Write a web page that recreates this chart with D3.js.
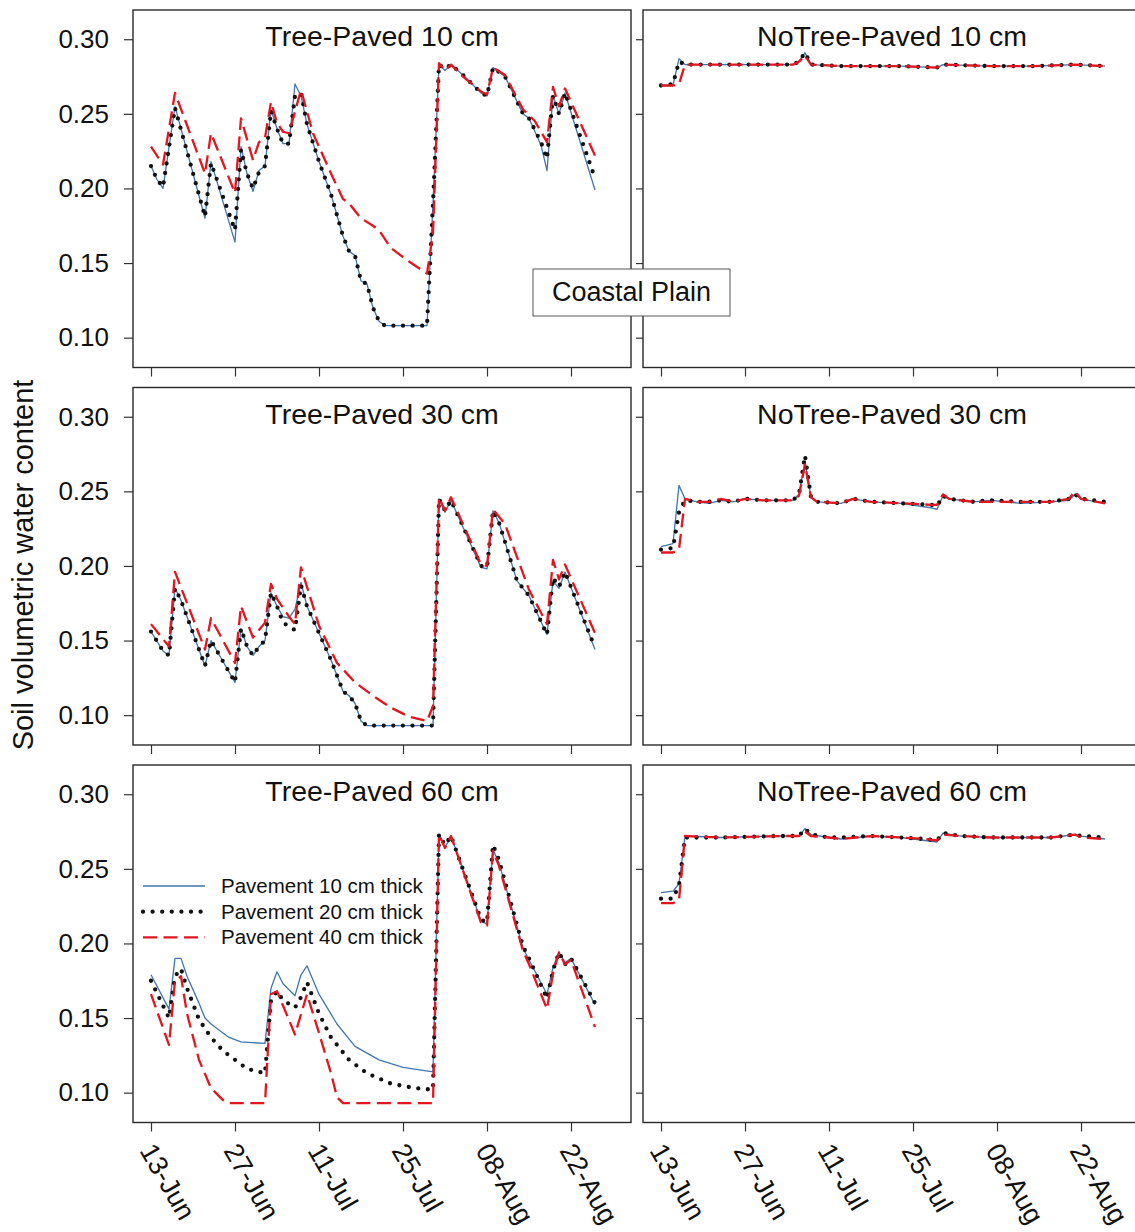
<!DOCTYPE html>
<html>
<head>
<meta charset="utf-8">
<script src="https://cdn.jsdelivr.net/npm/d3@7"></script>
<style>
  body { margin: 0; background: #fff; }
  text { font-family: "Liberation Sans", Arial, sans-serif; fill: #111; }
</style>
</head>
<body>
<svg width="1135" height="1232"></svg>
<script>
// series are [day since 13-Jun, volumetric water content]
// p10 = pavement 10 cm thick, p20 = 20 cm, p40 = 40 cm

var treeP10_p10 = [[0,.215],[1,.206],[2,.200],[4,.255],[9,.180],[10,.218],[14,.164],[15,.228],[16,.210],[17,.198],[18,.212],[19,.215],[20,.253],[21,.240],[22,.230],[23,.230],[24,.270],[25,.262],[26,.243],[28,.218],[30,.196],[32,.168],[33,.158],[34,.155],[35,.138],[36,.136],[37,.120],[38,.111],[39,.108],[46,.108],[47,.190],[48,.283],[49,.279],[50,.283],[52,.276],[55,.264],[56,.262],[57,.281],[59,.275],[62,.250],[63,.247],[65,.229],[66,.212],[67,.262],[68,.250],[69,.264],[74,.199]];
var treeP10_p20 = [[0,.215],[1,.206],[2,.201],[4,.254],[9,.181],[10,.217],[14,.172],[15,.226],[16,.210],[17,.200],[18,.211],[19,.215],[20,.252],[21,.240],[22,.230],[23,.230],[24,.262],[25,.264],[26,.243],[28,.218],[30,.196],[32,.168],[33,.158],[34,.155],[35,.138],[36,.136],[37,.120],[38,.111],[39,.108],[46,.108],[47,.190],[48,.283],[49,.280],[50,.283],[52,.276],[55,.264],[56,.262],[57,.281],[59,.275],[62,.250],[63,.247],[65,.231],[66,.220],[67,.262],[68,.250],[69,.264],[74,.207]];
var treeP10_p40 = [[0,.228],[2,.216],[4,.264],[9,.210],[10,.237],[14,.197],[15,.247],[17,.219],[18,.231],[19,.234],[20,.258],[21,.244],[22,.238],[23,.237],[25,.266],[27,.237],[30,.210],[32,.193],[33,.190],[35,.180],[37,.175],[38,.172],[40,.160],[43,.151],[46,.143],[47,.170],[48,.284],[49,.279],[50,.283],[52,.275],[55,.265],[56,.263],[57,.281],[59,.276],[62,.253],[64,.245],[66,.231],[67,.268],[68,.255],[69,.267],[74,.222]];

var treeP30_p10 = [[0,.156],[2,.143],[3,.140],[4,.185],[5,.177],[9,.133],[10,.150],[11,.143],[14,.122],[15,.158],[16,.146],[17,.140],[18,.146],[19,.150],[20,.182],[21,.173],[22,.166],[23,.165],[24,.171],[25,.189],[26,.173],[30,.137],[32,.116],[33,.113],[34,.108],[35,.096],[36,.093],[47,.093],[48,.245],[49,.236],[50,.244],[55,.199],[56,.198],[57,.237],[58,.229],[61,.190],[63,.180],[66,.154],[67,.190],[68,.185],[69,.196],[74,.144]];
var treeP30_p20 = [[0,.156],[2,.143],[3,.140],[4,.185],[5,.177],[9,.133],[10,.150],[11,.143],[14,.122],[15,.158],[16,.146],[17,.140],[18,.146],[19,.150],[20,.182],[21,.173],[22,.162],[24,.157],[25,.187],[26,.173],[30,.137],[32,.116],[33,.113],[34,.108],[35,.096],[36,.093],[47,.093],[48,.245],[49,.237],[50,.244],[55,.200],[56,.199],[57,.237],[58,.229],[61,.190],[63,.180],[66,.154],[67,.192],[68,.186],[69,.196],[74,.145]];
var treeP30_p40 = [[0,.161],[3,.146],[4,.196],[9,.144],[10,.165],[14,.135],[15,.173],[17,.152],[19,.162],[20,.188],[21,.178],[23,.166],[24,.161],[25,.199],[28,.160],[31,.135],[34,.122],[37,.113],[40,.105],[43,.099],[46,.096],[47,.106],[48,.246],[49,.237],[50,.246],[55,.201],[56,.200],[57,.238],[59,.228],[63,.184],[66,.161],[67,.204],[68,.191],[69,.201],[74,.155]];

var treeP60_p10 = [[0,.179],[3,.156],[4,.190],[5,.190],[6,.178],[8,.160],[9,.150],[10,.146],[11,.143],[13,.137],[15,.134],[19,.133],[20,.170],[21,.181],[22,.173],[24,.165],[25,.179],[26,.185],[28,.166],[31,.146],[34,.131],[38,.122],[42,.117],[47,.114],[48,.273],[49,.264],[50,.272],[55,.215],[56,.213],[57,.263],[58,.254],[62,.197],[63,.189],[66,.166],[67,.184],[68,.194],[69,.187],[70,.190],[74,.159]];
var treeP60_p20 = [[0,.175],[3,.150],[4,.178],[5,.183],[6,.170],[8,.149],[10,.137],[12,.128],[14,.122],[16,.116],[19,.113],[20,.162],[21,.168],[22,.162],[24,.157],[25,.164],[26,.174],[28,.153],[30,.137],[33,.122],[36,.113],[40,.106],[44,.103],[47,.102],[48,.273],[49,.266],[50,.272],[55,.216],[56,.214],[57,.266],[58,.256],[62,.198],[63,.190],[66,.163],[67,.182],[68,.194],[69,.186],[70,.190],[74,.160]];
var treeP60_p40 = [[0,.166],[3,.132],[4,.175],[5,.178],[6,.153],[8,.122],[10,.103],[12,.095],[13,.093],[19,.093],[20,.166],[21,.168],[24,.139],[26,.166],[28,.140],[30,.113],[31,.097],[32,.093],[47,.093],[48,.273],[49,.264],[50,.272],[55,.214],[56,.212],[57,.262],[58,.252],[62,.195],[63,.186],[66,.156],[67,.180],[68,.194],[69,.186],[70,.189],[74,.144]];

var noTree10_p10 = [[0,.269],[2,.269],[3,.287],[4,.283],[12,.283],[22,.283],[23,.285],[24,.291],[25,.283],[30,.282],[40,.282],[46,.281],[47,.283],[55,.282],[62,.282],[69,.283],[74,.282]];
var noTree10_p20 = [[0,.269],[2,.270],[3,.285],[4,.283],[12,.283],[22,.283],[23,.285],[24,.291],[25,.283],[30,.282],[40,.282],[46,.281],[47,.283],[55,.282],[62,.282],[69,.283],[74,.282]];
var noTree10_p40 = [[0,.269],[2,.269],[3,.270],[4,.283],[12,.283],[22,.283],[23,.285],[24,.289],[25,.283],[30,.282],[40,.282],[46,.281],[47,.283],[55,.282],[62,.282],[69,.283],[74,.282]];

var noTree30_p10 = [[0,.213],[2,.215],[3,.254],[4,.245],[6,.243],[8,.242],[10,.244],[12,.243],[14,.245],[17,.244],[22,.244],[23,.248],[24,.270],[25,.246],[26,.243],[30,.242],[32,.245],[35,.243],[40,.242],[45,.239],[46,.238],[47,.247],[48,.245],[52,.243],[55,.244],[60,.242],[65,.243],[68,.244],[69,.248],[70,.245],[74,.242]];
var noTree30_p20 = [[0,.211],[2,.212],[3,.236],[4,.244],[6,.243],[8,.243],[10,.244],[12,.243],[14,.245],[17,.244],[22,.244],[23,.248],[24,.274],[25,.246],[26,.243],[30,.242],[32,.245],[35,.243],[40,.242],[45,.241],[46,.240],[47,.247],[48,.245],[52,.243],[55,.244],[60,.243],[65,.243],[68,.245],[69,.248],[70,.245],[74,.243]];
var noTree30_p40 = [[0,.209],[2,.209],[3,.211],[4,.245],[6,.243],[8,.243],[10,.245],[12,.243],[14,.245],[17,.244],[22,.244],[23,.247],[24,.268],[25,.246],[26,.243],[30,.242],[32,.245],[35,.243],[40,.242],[45,.241],[46,.241],[47,.248],[48,.245],[52,.243],[55,.243],[60,.243],[65,.243],[68,.245],[69,.250],[70,.245],[74,.242]];

var noTree60_p10 = [[0,.234],[2,.235],[3,.240],[4,.272],[10,.271],[20,.272],[23,.272],[24,.277],[25,.273],[28,.271],[30,.270],[35,.272],[40,.271],[44,.269],[46,.268],[47,.274],[50,.272],[55,.271],[60,.271],[65,.271],[69,.273],[70,.272],[74,.270]];
var noTree60_p20 = [[0,.230],[2,.230],[3,.239],[4,.271],[10,.271],[20,.272],[23,.272],[24,.277],[25,.273],[28,.271],[30,.271],[35,.272],[40,.271],[44,.270],[46,.269],[47,.274],[50,.272],[55,.271],[60,.271],[65,.271],[69,.273],[70,.272],[74,.271]];
var noTree60_p40 = [[0,.227],[2,.227],[3,.229],[4,.272],[10,.271],[20,.272],[23,.272],[24,.275],[25,.272],[28,.271],[30,.270],[35,.272],[40,.271],[44,.270],[46,.269],[47,.273],[50,.272],[55,.271],[60,.271],[65,.271],[69,.273],[70,.271],[74,.270]];

var panelTitles = ["Tree-Paved 10 cm", "NoTree-Paved 10 cm", "Tree-Paved 30 cm", "NoTree-Paved 30 cm", "Tree-Paved 60 cm", "NoTree-Paved 60 cm"];
var panelData = [
  [treeP10_p10, treeP10_p20, treeP10_p40], [noTree10_p10, noTree10_p20, noTree10_p40],
  [treeP30_p10, treeP30_p20, treeP30_p40], [noTree30_p10, noTree30_p20, noTree30_p40],
  [treeP60_p10, treeP60_p20, treeP60_p40], [noTree60_p10, noTree60_p20, noTree60_p40]
];
var legendLabels = ["Pavement 10 cm thick", "Pavement 20 cm thick", "Pavement 40 cm thick"];
var yTicks = [0.10, 0.15, 0.20, 0.25, 0.30];
var tickDates = ["2015-06-13", "2015-06-27", "2015-07-11", "2015-07-25", "2015-08-08", "2015-08-22"];

var parseDate = d3.timeParse("%Y-%m-%d"),
    fmt = d3.timeFormat("%d-%b"),
    start = parseDate("2015-06-13");

var svg = d3.select("svg"),
    colX = [133, 643],
    rowY = [10, 387.5, 765],
    w = 498, h = 357.5;

var x = d3.scaleTime()
    .domain([parseDate("2015-06-10"), parseDate("2015-09-01")])
    .range([0, w]);
var y = d3.scaleLinear()
    .domain([0.080, 0.3196])
    .range([h, 0]);

var styles = [
  {stroke: "#3f76ae", width: 1.3, dash: null, cap: "butt"},
  {stroke: "#111", width: 4.3, dash: "0,9.6", cap: "round"},
  {stroke: "#e3151f", width: 2.3, dash: "14,6.5", cap: "butt"}
];

var line = d3.line()
    .x(function(d) { return x(d3.timeDay.offset(start, d[0])); })
    .y(function(d) { return y(d[1]); });

panelTitles.forEach(function(title, i) {
  var col = i % 2, row = Math.floor(i / 2);
  var g = svg.append("g")
      .attr("transform", "translate(" + colX[col] + "," + rowY[row] + ")");

  // y ticks
  var ya = g.append("g")
      .call(d3.axisLeft(y).tickValues(yTicks).tickSize(col == 0 ? 9 : 7)
        .tickFormat(col == 0 ? d3.format(".2f") : ""));
  ya.select(".domain").remove();
  ya.selectAll("line").attr("stroke", "#333").attr("stroke-width", 1.2);
  ya.selectAll("text").attr("x", -24).attr("font-size", 26).attr("fill", "#111")
      .style("font-family", "'Liberation Sans', Arial, sans-serif");

  // x ticks
  var xa = g.append("g")
      .attr("transform", "translate(0," + h + ")")
      .call(d3.axisBottom(x).tickValues(tickDates.map(parseDate)).tickSize(9).tickFormat(""));
  xa.select(".domain").remove();
  xa.selectAll("line").attr("stroke", "#333").attr("stroke-width", 1.2);

  if (row == 2) {
    g.selectAll(".xlab")
      .data(tickDates.map(parseDate))
      .enter().append("text")
        .attr("transform", function(d) {
          return "translate(" + (x(d) - 12) + "," + (h + 28) + ") rotate(60)";
        })
        .attr("font-size", 27)
        .text(function(d) { return fmt(d); });
  }

  panelData[i].forEach(function(s, k) {
    g.append("path")
      .datum(s)
      .attr("fill", "none")
      .attr("stroke", styles[k].stroke)
      .attr("stroke-width", styles[k].width)
      .attr("stroke-dasharray", styles[k].dash)
      .attr("stroke-linecap", styles[k].cap)
      .attr("stroke-linejoin", "round")
      .attr("d", line);
  });

  g.append("rect")
    .attr("width", w).attr("height", h)
    .attr("fill", "none").attr("stroke", "#2a2a2a").attr("stroke-width", 1.4);

  g.append("text")
    .attr("x", w / 2).attr("y", 36)
    .attr("text-anchor", "middle")
    .attr("font-size", 28.5)
    .text(title);

  if (i == 4) {
    var lg = g.append("g").attr("transform", "translate(10,121)");
    legendLabels.forEach(function(lab, k) {
      lg.append("line")
        .attr("x1", 0).attr("x2", 62)
        .attr("y1", k * 25.7).attr("y2", k * 25.7)
        .attr("stroke", styles[k].stroke)
        .attr("stroke-width", styles[k].width)
        .attr("stroke-dasharray", styles[k].dash)
        .attr("stroke-linecap", styles[k].cap);
      lg.append("text")
        .attr("x", 78).attr("y", k * 25.7 + 7)
        .attr("font-size", 20.5)
        .text(lab);
    });
  }
});

// y axis title
svg.append("text")
  .attr("transform", "translate(33,565) rotate(-90)")
  .attr("text-anchor", "middle")
  .attr("font-size", 29)
  .text("Soil volumetric water content");

// region label box
svg.append("rect")
  .attr("x", 533).attr("y", 269).attr("width", 197).attr("height", 47)
  .attr("fill", "#fff").attr("stroke", "#555").attr("stroke-width", 1);
svg.append("text")
  .attr("x", 631.5).attr("y", 301)
  .attr("text-anchor", "middle")
  .attr("font-size", 27)
  .text("Coastal Plain");
</script>
</body>
</html>
